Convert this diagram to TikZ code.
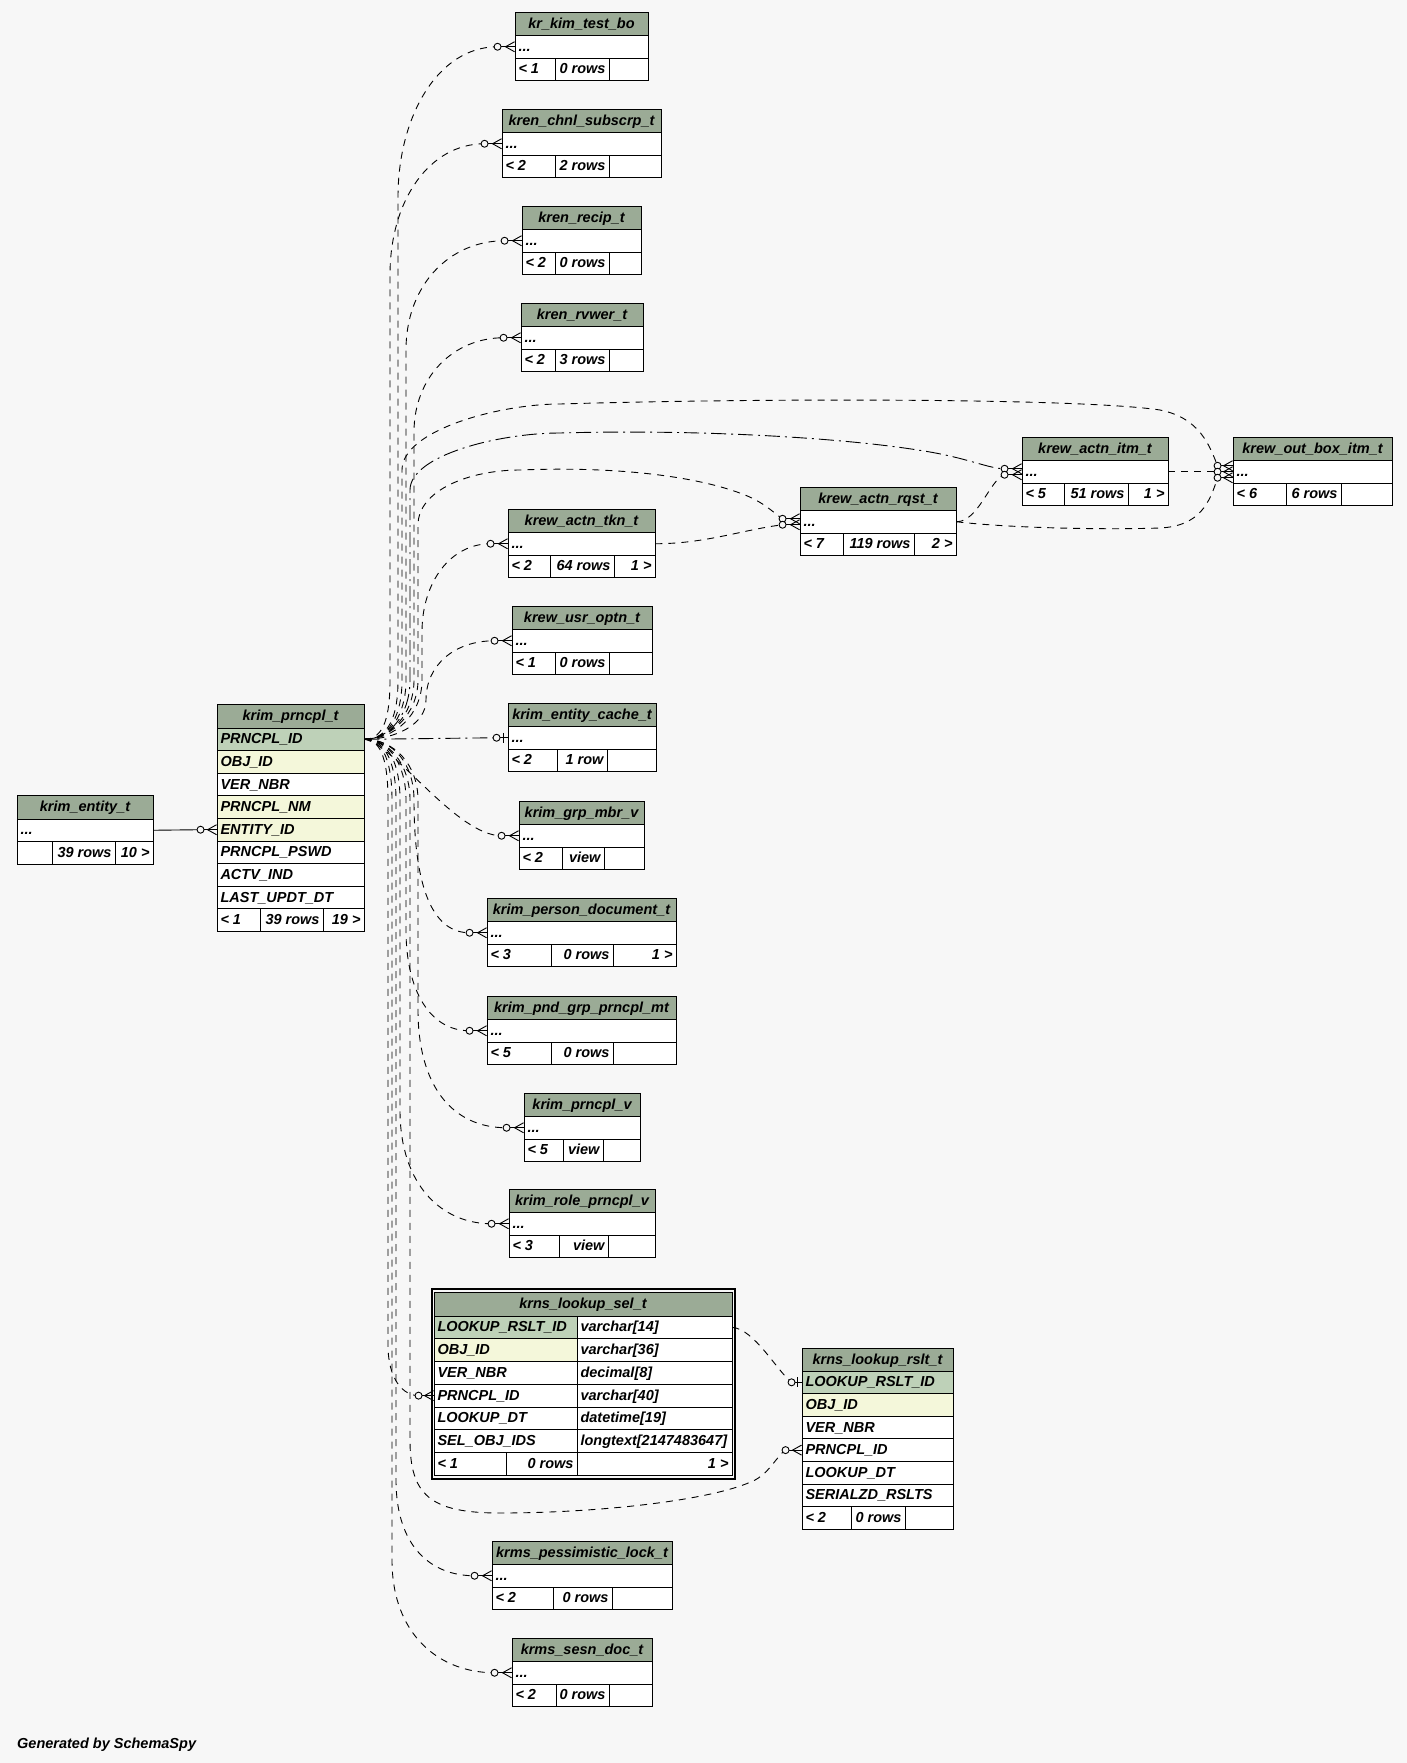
\documentclass[tikz,border=0pt]{standalone}
\usepackage{fontspec}
\setmainfont{Liberation Sans}
\usetikzlibrary{calc}
\definecolor{bgc}{HTML}{F7F7F7}
\definecolor{hdc}{HTML}{9BAB96}
\definecolor{pkc}{HTML}{BED1B8}
\definecolor{ixc}{HTML}{F4F7DA}

\newcommand{\cellnode}[8]{%
  \pgfmathsetmacro{\cellw}{#3-(#2)}%
  \pgfmathsetmacro{\cellh}{#5-(#4)}%
  \pgfmathsetmacro{\cellx}{(#2+#3)/2}%
  \pgfmathsetmacro{\celly}{(#4+#5)/2}%
  \pgfmathsetmacro{\cellt}{#3-(#2)-7}%
  \node[tcell,#6,minimum width=\cellw pt,minimum height=\cellh pt] (#1) at (\cellx,\celly) {\makebox[\cellt pt][#7]{#8}};%
}
\newcommand{\mtab}[5]{%
  \cellnode{#1-h}{#2}{#3}{#4}{#4+23.5}{thead}{c}{#5}%
  \cellnode{#1-r}{#2}{#3}{#4+23.5}{#4+46}{tplain}{l}{...}%
}
\newcommand{\mfoot}[9]{%
  \cellnode{#1-f1}{#2}{#3}{#6+46}{#6+68.5}{tplain}{l}{#7}%
  \cellnode{#1-f2}{#3}{#4}{#6+46}{#6+68.5}{tplain}{r}{#8}%
  \cellnode{#1-f3}{#4}{#5}{#6+46}{#6+68.5}{tplain}{r}{#9}%
}
\newcommand{\fkpt}[4]{\coordinate (#1) at ($(#2.west)+(-#4,#3)$);}
\newcommand{\crow}[3]{%
  \draw[mkr] ($(#1.west)+(-#3,#2)$) -- ($(#1.west)+(0,#2)$);
  \draw[mkr] ($(#1.west)+(0,#2-5)$) -- ($(#1.west)+(-9,#2)$) -- ($(#1.west)+(0,#2+5)$);
  \draw[mkr,fill=bgc] ($(#1.west)+(-#3,#2)$) circle[radius=3.5];%
}
\newcommand{\teem}[3]{%
  \draw[mkr] ($(#1.west)+(-#3,#2)$) -- ($(#1.west)+(0,#2)$);
  \draw[mkr,line width=1.6pt] ($(#1.west)+(-4,#2-5)$) -- ($(#1.west)+(-4,#2+5)$);
  \draw[mkr,fill=bgc] ($(#1.west)+(-#3,#2)$) circle[radius=3.5];%
}

\begin{document}
\begin{tikzpicture}[x=1pt,y=-1pt,
  tcell/.style={draw=black,line width=0.9pt,fill=white,inner xsep=3.5pt,inner ysep=0pt,
    text height=11pt,text depth=2pt,font=\fontsize{14.5}{16}\selectfont\bfseries\itshape},
  tplain/.style={},
  thead/.style={fill=hdc},
  tpk/.style={fill=pkc},
  tix/.style={fill=ixc},
  fkline/.style={line width=0.9pt},
  fkdash/.style={fkline,dash pattern=on 7pt off 6pt},
  fkdot/.style={fkline,dash pattern=on 15pt off 5pt on 2pt off 5pt},
  mkr/.style={line width=0.9pt}]

\path[use as bounding box,fill=bgc] (0,0) rectangle (1407,1763);

% ---- small tables ----
\mtab{kimtest}{515}{648}{12}{kr\_kim\_test\_bo}
\mfoot{kimtest}{515}{555}{609}{648}{12}{< 1}{0 rows}{}
\mtab{chnl}{502}{661}{109}{kren\_chnl\_subscrp\_t}
\mfoot{chnl}{502}{555}{609}{661}{109}{< 2}{2 rows}{}
\mtab{recip}{522}{641}{206}{kren\_recip\_t}
\mfoot{recip}{522}{555}{609}{641}{206}{< 2}{0 rows}{}
\mtab{rvwer}{521}{643}{303}{kren\_rvwer\_t}
\mfoot{rvwer}{521}{555}{609}{643}{303}{< 2}{3 rows}{}
\mtab{tkn}{508}{655}{509}{krew\_actn\_tkn\_t}
\mfoot{tkn}{508}{550}{614}{655}{509}{< 2}{64 rows}{1 >}
\mtab{optn}{512}{652}{606}{krew\_usr\_optn\_t}
\mfoot{optn}{512}{555}{609}{652}{606}{< 1}{0 rows}{}
\mtab{cache}{508}{656}{703}{krim\_entity\_cache\_t}
\mfoot{cache}{508}{557}{607}{656}{703}{< 2}{1 row}{}
\mtab{grp}{519}{644}{801}{krim\_grp\_mbr\_v}
\mfoot{grp}{519}{562}{604}{644}{801}{< 2}{view}{}
\mtab{pdoc}{487}{676}{898}{krim\_person\_document\_t}
\mfoot{pdoc}{487}{551}{613}{676}{898}{< 3}{0 rows}{1 >}
\mtab{pnd}{487}{676}{996}{krim\_pnd\_grp\_prncpl\_mt}
\mfoot{pnd}{487}{551}{613}{676}{996}{< 5}{0 rows}{}
\mtab{pv}{524}{640}{1093}{krim\_prncpl\_v}
\mfoot{pv}{524}{563}{603}{640}{1093}{< 5}{view}{}
\mtab{rpv}{509}{655}{1189}{krim\_role\_prncpl\_v}
\mfoot{rpv}{509}{559}{608}{655}{1189}{< 3}{view}{}
\mtab{pess}{492}{672}{1541}{krms\_pessimistic\_lock\_t}
\mfoot{pess}{492}{553}{612}{672}{1541}{< 2}{0 rows}{}
\mtab{sesn}{512}{652}{1638}{krms\_sesn\_doc\_t}
\mfoot{sesn}{512}{556}{609}{652}{1638}{< 2}{0 rows}{}
\mtab{rqst}{800}{956}{487}{krew\_actn\_rqst\_t}
\mfoot{rqst}{800}{843}{914}{956}{487}{< 7}{119 rows}{2 >}
\mtab{itm}{1022}{1168}{437}{krew\_actn\_itm\_t}
\mfoot{itm}{1022}{1064}{1128}{1168}{437}{< 5}{51 rows}{1 >}
\mtab{obox}{1233}{1392}{437}{krew\_out\_box\_itm\_t}
\mfoot{obox}{1233}{1286}{1341}{1392}{437}{< 6}{6 rows}{}
\mtab{ent}{17}{153}{795.5}{krim\_entity\_t}
\mfoot{ent}{17}{52}{115}{153}{795.5}{}{39 rows}{10 >}

% ---- krim_prncpl_t ----
\cellnode{prncpl-h}{217}{364}{704}{728}{thead}{c}{krim\_prncpl\_t}
\cellnode{prncpl-1}{217}{364}{728}{750.6}{tpk}{l}{PRNCPL\_ID}
\cellnode{prncpl-2}{217}{364}{750.6}{773.2}{tix}{l}{OBJ\_ID}
\cellnode{prncpl-3}{217}{364}{773.2}{795.8}{tplain}{l}{VER\_NBR}
\cellnode{prncpl-4}{217}{364}{795.8}{818.4}{tix}{l}{PRNCPL\_NM}
\cellnode{prncpl-5}{217}{364}{818.4}{841}{tix}{l}{ENTITY\_ID}
\cellnode{prncpl-6}{217}{364}{841}{863.6}{tplain}{l}{PRNCPL\_PSWD}
\cellnode{prncpl-7}{217}{364}{863.6}{886.2}{tplain}{l}{ACTV\_IND}
\cellnode{prncpl-8}{217}{364}{886.2}{908.8}{tplain}{l}{LAST\_UPDT\_DT}
\cellnode{prncpl-f1}{217}{260}{908.8}{931.4}{tplain}{l}{< 1}
\cellnode{prncpl-f2}{260}{323}{908.8}{931.4}{tplain}{r}{39 rows}
\cellnode{prncpl-f3}{323}{364}{908.8}{931.4}{tplain}{r}{19 >}

% ---- krns_lookup_sel_t ----
\node[draw=black,line width=2pt,minimum width=303pt,minimum height=190.5pt,inner sep=0pt] (sel-frame) at (583,1383.75) {};
\cellnode{sel-h}{434}{732}{1292}{1316}{thead}{c}{krns\_lookup\_sel\_t}
\cellnode{sel-1a}{434}{577}{1316}{1338.75}{tpk}{l}{LOOKUP\_RSLT\_ID}
\cellnode{sel-1b}{577}{732}{1316}{1338.75}{tplain}{l}{varchar[14]}
\cellnode{sel-2a}{434}{577}{1338.75}{1361.5}{tix}{l}{OBJ\_ID}
\cellnode{sel-2b}{577}{732}{1338.75}{1361.5}{tplain}{l}{varchar[36]}
\cellnode{sel-3a}{434}{577}{1361.5}{1384.25}{tplain}{l}{VER\_NBR}
\cellnode{sel-3b}{577}{732}{1361.5}{1384.25}{tplain}{l}{decimal[8]}
\cellnode{sel-4a}{434}{577}{1384.25}{1407}{tplain}{l}{PRNCPL\_ID}
\cellnode{sel-4b}{577}{732}{1384.25}{1407}{tplain}{l}{varchar[40]}
\cellnode{sel-5a}{434}{577}{1407}{1429.75}{tplain}{l}{LOOKUP\_DT}
\cellnode{sel-5b}{577}{732}{1407}{1429.75}{tplain}{l}{datetime[19]}
\cellnode{sel-6a}{434}{577}{1429.75}{1452.5}{tplain}{l}{SEL\_OBJ\_IDS}
\cellnode{sel-6b}{577}{732}{1429.75}{1452.5}{tplain}{l}{longtext[2147483647]}
\cellnode{sel-f1}{434}{506}{1452.5}{1475.25}{tplain}{l}{< 1}
\cellnode{sel-f2}{506}{577}{1452.5}{1475.25}{tplain}{r}{0 rows}
\cellnode{sel-f3}{577}{732}{1452.5}{1475.25}{tplain}{r}{1 >}

% ---- krns_lookup_rslt_t ----
\cellnode{rslt-h}{802}{953}{1348}{1371}{thead}{c}{krns\_lookup\_rslt\_t}
\cellnode{rslt-1}{802}{953}{1371}{1393.6}{tpk}{l}{LOOKUP\_RSLT\_ID}
\cellnode{rslt-2}{802}{953}{1393.6}{1416.2}{tix}{l}{OBJ\_ID}
\cellnode{rslt-3}{802}{953}{1416.2}{1438.8}{tplain}{l}{VER\_NBR}
\cellnode{rslt-4}{802}{953}{1438.8}{1461.4}{tplain}{l}{PRNCPL\_ID}
\cellnode{rslt-5}{802}{953}{1461.4}{1484}{tplain}{l}{LOOKUP\_DT}
\cellnode{rslt-6}{802}{953}{1484}{1506.6}{tplain}{l}{SERIALZD\_RSLTS}
\cellnode{rslt-f1}{802}{851}{1506.6}{1529.2}{tplain}{l}{< 2}
\cellnode{rslt-f2}{851}{905}{1506.6}{1529.2}{tplain}{r}{0 rows}
\cellnode{rslt-f3}{905}{953}{1506.6}{1529.2}{tplain}{r}{}

% ---- end points ----
\fkpt{kimtest-c}{kimtest-r}{0}{17}
\fkpt{chnl-c}{chnl-r}{0}{17}
\fkpt{recip-c}{recip-r}{0}{17}
\fkpt{rvwer-c}{rvwer-r}{0}{17}
\fkpt{tkn-c}{tkn-r}{0}{17}
\fkpt{optn-c}{optn-r}{0}{17}
\fkpt{cache-c}{cache-r}{0}{11}
\fkpt{grp-c}{grp-r}{0}{17}
\fkpt{pdoc-c}{pdoc-r}{0}{17}
\fkpt{pnd-c}{pnd-r}{0}{17}
\fkpt{pv-c}{pv-r}{0}{17}
\fkpt{rpv-c}{rpv-r}{0}{17}
\fkpt{pess-c}{pess-r}{0}{17}
\fkpt{sesn-c}{sesn-r}{0}{17}
\fkpt{itm-c1}{itm-r}{-3}{17}
\fkpt{itm-c2}{itm-r}{3}{17}
\fkpt{rqst-c1}{rqst-r}{-3}{17}
\fkpt{rqst-c2}{rqst-r}{3}{17}
\fkpt{obox-c1}{obox-r}{-6}{15}
\fkpt{obox-c2}{obox-r}{0}{15}
\fkpt{obox-c3}{obox-r}{6}{15}
\fkpt{sel-c}{sel-4a}{0}{15}
\fkpt{rsltl-c}{rslt-1}{0}{10}
\fkpt{rsltp-c}{rslt-4}{0}{16}
\fkpt{pent-c}{prncpl-5}{0}{16}

% ---- connectors from krim_prncpl_t ----
\draw[fkdash] (prncpl-1.east) .. controls +(25,0) and +(0,35) .. (398,680) -- (398,197) .. controls +(0,-80) and +(-60,0) .. (kimtest-c);
\draw[fkdash] (prncpl-1.east) .. controls +(20,0) and +(0,35) .. (390,680) -- (390,275) .. controls +(0,-75) and +(-55,0) .. (chnl-c);
\draw[fkdash] (prncpl-1.east) .. controls +(25,0) and +(0,35) .. (406,680) -- (406,350) .. controls +(0,-65) and +(-55,0) .. (recip-c);
\draw[fkdash] (prncpl-1.east) .. controls +(25,0) and +(0,35) .. (414,680) -- (414,432) .. controls +(0,-55) and +(-50,0) .. (rvwer-c);
\draw[fkdash] (prncpl-1.east) .. controls +(30,0) and +(0,35) .. (422,680) -- (422,632) .. controls +(0,-50) and +(-40,0) .. (tkn-c);
\draw[fkdash] (prncpl-1.east) .. controls +(30,0) and +(0,25) .. (426,700) .. controls +(0,-35) and +(-40,0) .. (optn-c);
\draw[fkdot] (prncpl-1.east) -- (cache-c);
\draw[fkdash] (prncpl-1.east) .. controls +(25,0) and +(0,35) .. (402,680) -- (402,470) .. controls +(0,-40) and +(-60,0) .. (560,404) .. controls +(200,-6) and +(-80,-12) .. (1160,410) .. controls +(40,8) and +(-8,-20) .. (obox-c1);
\draw[fkdot] (prncpl-1.east) .. controls +(25,0) and +(0,35) .. (410,680) -- (410,490) .. controls +(0,-35) and +(-60,0) .. (560,433) .. controls +(140,-4) and +(-80,-14) .. (930,452) .. controls +(40,7) and +(-15,0) .. (itm-c1);
\draw[fkdash] (prncpl-1.east) .. controls +(25,0) and +(0,35) .. (418,680) -- (418,525) .. controls +(0,-35) and +(-50,0) .. (520,470) .. controls +(100,-4) and +(-45,-18) .. (745,495) .. controls +(20,8) and +(-8,-5) .. (rqst-c1);
\draw[fkdash] (prncpl-1.east) .. controls +(30,5) and +(-45,0) .. (grp-c);
\draw[fkdash] (prncpl-1.east) .. controls +(30,0) and +(0,-35) .. (414,800) .. controls +(0,80) and +(-40,0) .. (pdoc-c);
\draw[fkdash] (prncpl-1.east) .. controls +(25,0) and +(0,-35) .. (406,800) -- (406,930) .. controls +(0,60) and +(-40,0) .. (pnd-c);
\draw[fkdash] (prncpl-1.east) .. controls +(30,0) and +(0,-35) .. (418,800) -- (418,1010) .. controls +(0,75) and +(-55,0) .. (pv-c);
\draw[fkdash] (prncpl-1.east) .. controls +(25,0) and +(0,-35) .. (400,800) -- (400,1110) .. controls +(0,75) and +(-50,0) .. (rpv-c);
\draw[fkdash] (prncpl-1.east) .. controls +(18,0) and +(0,-35) .. (388,800) -- (388,1345) .. controls +(0,35) and +(-15,0) .. (sel-c);
\draw[fkdash] (prncpl-1.east) .. controls +(25,0) and +(0,-35) .. (410,800) -- (410,1440) .. controls +(0,55) and +(-70,0) .. (500,1513) .. controls +(100,0) and +(-40,20) .. (755,1480) .. controls +(15,-8) and +(-8,5) .. (rsltp-c);
\draw[fkdash] (prncpl-1.east) .. controls +(22,0) and +(0,-35) .. (396,800) -- (396,1480) .. controls +(0,65) and +(-45,0) .. (pess-c);
\draw[fkdash] (prncpl-1.east) .. controls +(20,0) and +(0,-35) .. (392,800) -- (392,1560) .. controls +(0,75) and +(-55,0) .. (sesn-c);

% ---- other connectors ----
\draw[fkline] (ent-r.east) -- (pent-c);
\draw[fkdash] (tkn-r.east) .. controls +(50,0) and +(-40,5) .. (rqst-c2);
\draw[fkdash] (rqst-r.east) .. controls +(22,0) and +(-15,5) .. (itm-c2);
\draw[fkdash] (rqst-r.east) .. controls +(50,6) and +(-60,2) .. (1160,528) .. controls +(40,-2) and +(-8,25) .. (obox-c3);
\draw[fkdash] (itm-r.east) -- (obox-c2);
\draw[fkdash] (sel-1b.east) .. controls +(22,2) and +(-15,-12) .. (rsltl-c);

% ---- end markers ----
\crow{kimtest-r}{0}{17}
\crow{chnl-r}{0}{17}
\crow{recip-r}{0}{17}
\crow{rvwer-r}{0}{17}
\crow{tkn-r}{0}{17}
\crow{optn-r}{0}{17}
\teem{cache-r}{0}{11}
\crow{grp-r}{0}{17}
\crow{pdoc-r}{0}{17}
\crow{pnd-r}{0}{17}
\crow{pv-r}{0}{17}
\crow{rpv-r}{0}{17}
\crow{pess-r}{0}{17}
\crow{sesn-r}{0}{17}
\crow{itm-r}{-3}{17}
\crow{itm-r}{3}{17}
\crow{rqst-r}{-3}{17}
\crow{rqst-r}{3}{17}
\crow{obox-r}{-6}{15}
\crow{obox-r}{0}{15}
\crow{obox-r}{6}{15}
\crow{sel-4a}{0}{15}
\teem{rslt-1}{0}{10}
\crow{rslt-4}{0}{16}
\crow{prncpl-5}{0}{16}

\node[anchor=base west,inner sep=0pt,font=\fontsize{14.5}{16}\selectfont\bfseries\itshape] (gen) at (17,1748) {Generated by SchemaSpy};
\end{tikzpicture}
\end{document}
